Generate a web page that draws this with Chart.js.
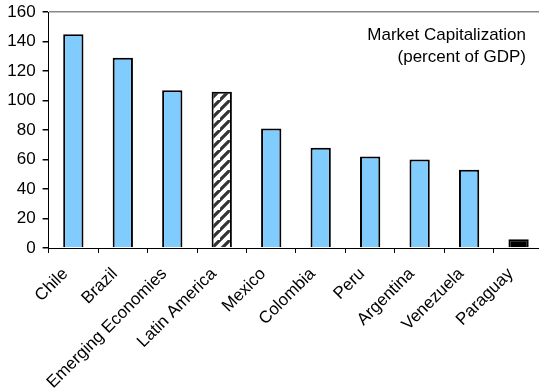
<!DOCTYPE html>
<html>
<head>
<meta charset="utf-8">
<script src="https://cdn.jsdelivr.net/npm/chart.js@4"></script>
<style>
    html, body { margin: 0; padding: 0; background: #fff; overflow: hidden; }
    #wrap { position: relative; width: 544px; height: 392px; }
</style>
</head>
<body>
<div id="wrap"><canvas id="myChart" width="544" height="392"></canvas></div>
<script>
// Chart data
const countries = ['Chile', 'Brazil', 'Emerging Economies', 'Latin America', 'Mexico',
    'Colombia', 'Peru', 'Argentina', 'Venezuela', 'Paraguay'];
const marketCap = [145, 129, 107, 106, 81, 68, 62, 60, 53, 6];
const yTicks = [0, 20, 40, 60, 80, 100, 120, 140, 160];
const noteLines = ['Market Capitalization', '(percent of GDP)'];

const FONT = 'Arial, "Liberation Sans", sans-serif';

// diagonal hatch for the Latin America bar
function makeHatch() {
    const s = 10;
    const c = document.createElement('canvas');
    c.width = s;
    c.height = s;
    const g = c.getContext('2d');
    g.fillStyle = '#fff';
    g.fillRect(0, 0, s, s);
    g.strokeStyle = '#333';
    g.lineWidth = 3.2;
    g.beginPath();
    g.moveTo(-2, s + 2); g.lineTo(s + 2, -2);
    g.moveTo(-s - 2, s + 2); g.lineTo(2, -2);
    g.moveTo(s - 2, 2 * s + 2); g.lineTo(2 * s + 2, s - 2);
    g.stroke();
    return g.createPattern(c, 'repeat');
}

const ctx = document.getElementById('myChart').getContext('2d');
const hatch = makeHatch();

const barColors = countries.map(name => {
    if (name === 'Latin America') return hatch;
    if (name === 'Paraguay') return '#000';
    return '#80ccff';
});

// text note in upper right corner of plot
const notePlugin = {
    id: 'note',
    afterDraw(chart) {
        const c = chart.ctx;
        c.save();
        c.font = '17px ' + FONT;
        c.fillStyle = '#000';
        c.textAlign = 'right';
        c.textBaseline = 'middle';
        c.fillText(noteLines[0], 526, 35);
        c.fillText(noteLines[1], 526, 57);
        c.restore();
    }
};

new Chart(ctx, {
    type: 'bar',
    data: {
        labels: countries,
        datasets: [{
            data: marketCap,
            backgroundColor: barColors,
            borderColor: '#000',
            borderWidth: 2,
            barPercentage: 0.41,
            categoryPercentage: 1
        }]
    },
    options: {
        responsive: false,
        animation: false,
        layout: { padding: { top: 12, right: 0, left: 0, bottom: 0 } },
        plugins: {
            legend: { display: false },
            tooltip: { enabled: false }
        },
        scales: {
            x: {
                grid: {
                    display: true,
                    offset: true,
                    color: 'transparent',
                    tickColor: '#000',
                    tickLength: 5
                },
                border: { color: '#000', width: 1 },
                ticks: {
                    color: '#000',
                    font: { family: FONT, size: 17 },
                    maxRotation: 45,
                    minRotation: 45,
                    padding: 11,
                    labelOffset: -8
                },
                afterFit: scale => { scale.height = 144; }
            },
            y: {
                min: 0,
                max: 160,
                afterBuildTicks: scale => {
                    scale.ticks = yTicks.map(v => ({value: v}));
                },
                grid: {
                    color: c => c.tick && c.tick.value === 160 ? '#888' : 'transparent',
                    lineWidth: 1.5,
                    tickColor: '#000',
                    tickLength: 6
                },
                border: { color: '#000', width: 1 },
                ticks: {
                    color: '#000',
                    font: { family: FONT, size: 17 },
                    padding: 7
                },
                afterFit: scale => {
                    scale.width = 48.6;
                    scale.paddingTop = 0;
                    scale.paddingBottom = 0;
                }
            }
        }
    },
    plugins: [notePlugin]
});
</script>
</body>
</html>
